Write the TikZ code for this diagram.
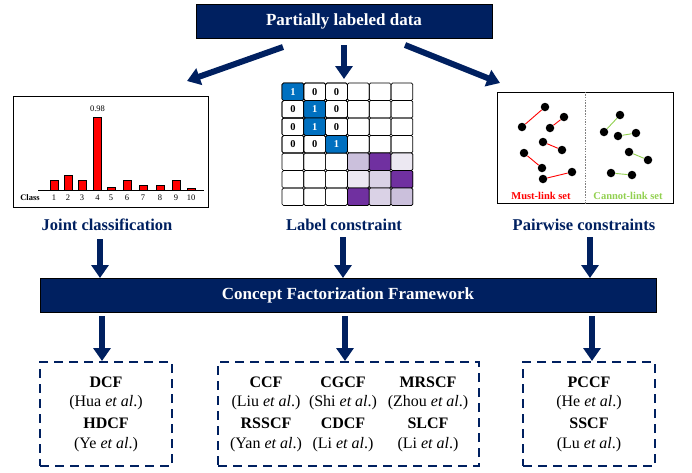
\documentclass[tikz,border=0pt]{standalone}
\usepackage{fontspec}
\setmainfont{Liberation Serif}
\usetikzlibrary{arrows.meta}
\definecolor{navy}{HTML}{002060}
\definecolor{mblue}{HTML}{0070C0}
\definecolor{pdark}{HTML}{7030A0}
\definecolor{plight}{HTML}{CBC0DC}
\definecolor{pvlight}{HTML}{ECE8F2}
\definecolor{pmid}{HTML}{DAD2E6}
\definecolor{lgreen}{HTML}{92D050}
\tikzset{
  banner/.style={fill=navy, draw=black, line width=0.6pt, text=white, font=\fontsize{17}{20}\selectfont\bfseries, inner sep=0pt},
  bigarrow/.style={draw=navy, line width=6pt, -{Triangle[width=17pt,length=13pt]}},
  caption/.style={text=navy, font=\fontsize{16.5}{20}\selectfont\bfseries},
  dashbox/.style={draw=navy, line width=1.6pt, dash pattern=on 9pt off 6pt},
  ref/.style={font=\fontsize{16}{20}\selectfont, align=center, inner sep=0pt},
  bar/.style={fill=red, draw=black, line width=0.6pt},
  cell/.style={draw=black, line width=0.7pt, rounded corners=1.5pt, minimum width=21.8pt, minimum height=17.5pt, inner sep=0pt, font=\fontsize{10.5}{12}\selectfont\bfseries},
  pt/.style={circle, fill=black, inner sep=0pt, minimum size=8.5pt},
  tick/.style={font=\fontsize{8.5}{10}\selectfont, inner sep=0pt}
}
\begin{document}
\begin{tikzpicture}[x=1pt,y=-1pt]
\useasboundingbox (0,0) rectangle (692,472);
% top banner
\node[banner, minimum width=296pt, minimum height=34pt] (data) at (344,21) {Partially labeled data};
% arrows from banner
\coordinate (a1s) at (283,47); \coordinate (a1e) at (187,81);
\coordinate (a2s) at (344,45); \coordinate (a2e) at (344,79);
\coordinate (a3s) at (405,45); \coordinate (a3e) at (500,83);
\draw[bigarrow] (a1s) -- (a1e);
\draw[bigarrow] (a2s) -- (a2e);
\draw[bigarrow] (a3s) -- (a3e);

% ---------- bar chart panel ----------
\node[draw=black, line width=1pt, minimum width=195pt, minimum height=111pt, inner sep=0pt] (chart) at (110.5,151.5) {};
\coordinate (bl) at (38,190); \coordinate (br) at (204,190);
\foreach \cx/\top [count=\i] in {54/180,68/175,82/180,97.5/117,111/187,127/180,143/185,160/185,176/180,191/188}{
  \draw[bar] (\cx-3.8,190) rectangle (\cx+3.8,\top);
  \node[tick] (t\i) at (\cx,198) {\i};
}
\draw[line width=1pt] (bl) -- (br);
\node[tick, font=\fontsize{8.5}{10}\selectfont\bfseries] (cls) at (30,198) {Class};
\node[tick] (val) at (97.5,109) {0.98};
\node[caption] (cap1) at (107,225) {Joint classification};

% ---------- matrix panel ----------
\def\mw{21.8}\def\mh{17.5}
\foreach \r in {0,...,6}{
  \foreach \c in {0,...,5}{
    \node[cell] (m\r\c) at ({282+\mw*(\c+0.5)},{83+\mh*(\r+0.5)}) {};
  }
}
\node[cell, fill=mblue, text=white] at (m00) {1};
\node[cell] at (m01) {0}; \node[cell] at (m02) {0};
\node[cell] at (m10) {0}; \node[cell, fill=mblue, text=white] at (m11) {1}; \node[cell] at (m12) {0};
\node[cell] at (m20) {0}; \node[cell, fill=mblue, text=white] at (m21) {1}; \node[cell] at (m22) {0};
\node[cell] at (m30) {0}; \node[cell] at (m31) {0}; \node[cell, fill=mblue, text=white] at (m32) {1};
\node[cell, fill=plight] at (m43) {}; \node[cell, fill=pdark] at (m44) {}; \node[cell, fill=pvlight] at (m45) {};
\node[cell, fill=pvlight] at (m53) {}; \node[cell, fill=pmid] at (m54) {}; \node[cell, fill=pdark] at (m55) {};
\node[cell, fill=pdark] at (m63) {}; \node[cell, fill=pmid] at (m64) {}; \node[cell, fill=plight] at (m65) {};
\node[caption] (cap2) at (344,225) {Label constraint};

% ---------- pairwise panel ----------
\node[draw=black, line width=1pt, minimum width=176pt, minimum height=111pt, inner sep=0pt] (pair) at (585,147.5) {};
\draw[gray, line width=0.8pt, dash pattern=on 1.5pt off 1.2pt] (pair.north) -- (pair.south);
\foreach \ax/\ay/\bx/\by [count=\k] in {545/107/522/127, 564/117/550/128, 543/142/562/150, 524/153/542/168, 543/179/572/172}{
  \node[pt] (ma\k) at (\ax,\ay) {}; \node[pt] (mb\k) at (\bx,\by) {};
  \draw[red, line width=0.9pt] (ma\k) -- (mb\k);
}
\foreach \ax/\ay/\bx/\by [count=\k] in {620/115/604/132, 618/136/636/133, 629/152/648/160, 611/173/632/175}{
  \node[pt] (ca\k) at (\ax,\ay) {}; \node[pt] (cb\k) at (\bx,\by) {};
  \draw[lgreen, line width=0.9pt] (ca\k) -- (cb\k);
}
\node[text=red, font=\fontsize{10.5}{12}\selectfont\bfseries, inner sep=0pt] (ml) at (541,196) {Must-link set};
\node[text=lgreen, font=\fontsize{10.5}{12}\selectfont\bfseries, inner sep=0pt] (cl) at (628,196) {Cannot-link set};
\node[caption] (cap3) at (584,225) {Pairwise constraints};

% ---------- framework bar ----------
\node[banner, minimum width=616pt, minimum height=34pt] (cf) at (348,295) {Concept Factorization Framework};
\coordinate (d1s) at (100,239); \coordinate (d1e) at (100,278);
\coordinate (d2s) at (343,237); \coordinate (d2e) at (343,278);
\coordinate (d3s) at (590,237); \coordinate (d3e) at (590,278);
\draw[bigarrow] (d1s) -- (d1e);
\draw[bigarrow] (d2s) -- (d2e);
\draw[bigarrow] (d3s) -- (d3e);

% ---------- bottom boxes ----------
\node[dashbox, minimum width=132pt, minimum height=104pt, inner sep=0pt] (b1) at (106,414) {};
\node[dashbox, minimum width=261pt, minimum height=104pt, inner sep=0pt] (b2) at (348.5,414) {};
\node[dashbox, minimum width=132pt, minimum height=104pt, inner sep=0pt] (b3) at (589,414) {};
\coordinate (e1s) at (102,316); \coordinate (e1e) at (102,361);
\coordinate (e2s) at (345,316); \coordinate (e2e) at (345,361);
\coordinate (e3s) at (592,316); \coordinate (e3e) at (592,361);
\draw[bigarrow] (e1s) -- (e1e);
\draw[bigarrow] (e2s) -- (e2e);
\draw[bigarrow] (e3s) -- (e3e);

\node[ref] (r1a) at (106,382) {\textbf{DCF}};
\node[ref] (r1b) at (106,403) {(Hua \textit{et al}.)};
\node[ref] (r1c) at (106,423) {\textbf{HDCF}};
\node[ref] (r1d) at (106,445) {(Ye \textit{et al}.)};

\node[ref] (r2a) at (266,382) {\textbf{CCF}};
\node[ref] (r2b) at (266,403) {(Liu \textit{et al}.)};
\node[ref] (r2c) at (266,423) {\textbf{RSSCF}};
\node[ref] (r2d) at (266,445) {(Yan \textit{et al}.)};
\node[ref] (r3a) at (343,382) {\textbf{CGCF}};
\node[ref] (r3b) at (343,403) {(Shi \textit{et al}.)};
\node[ref] (r3c) at (343,423) {\textbf{CDCF}};
\node[ref] (r3d) at (343,445) {(Li \textit{et al}.)};
\node[ref] (r4a) at (428,382) {\textbf{MRSCF}};
\node[ref] (r4b) at (428,403) {(Zhou \textit{et al}.)};
\node[ref] (r4c) at (428,423) {\textbf{SLCF}};
\node[ref] (r4d) at (428,445) {(Li \textit{et al}.)};

\node[ref] (r5a) at (589,382) {\textbf{PCCF}};
\node[ref] (r5b) at (589,403) {(He \textit{et al}.)};
\node[ref] (r5c) at (589,423) {\textbf{SSCF}};
\node[ref] (r5d) at (589,445) {(Lu \textit{et al}.)};
\end{tikzpicture}
\end{document}
